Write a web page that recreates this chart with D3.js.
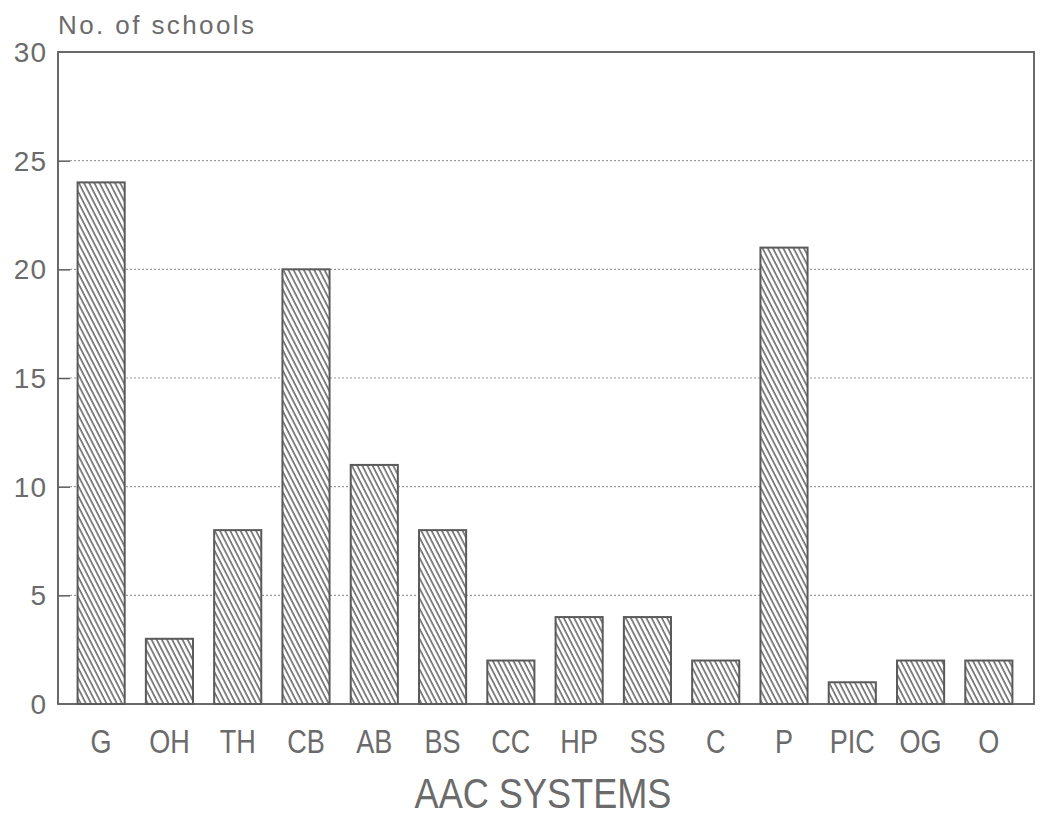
<!DOCTYPE html>
<html>
<head>
<meta charset="utf-8">
<script src="https://cdn.jsdelivr.net/npm/d3@7"></script>
<style>
  html, body { margin: 0; padding: 0; background: #fff; }
  text { font-family: "Liberation Sans", Arial, sans-serif; fill: #6b6b6b; }
</style>
</head>
<body>
<svg id="chart" width="1040" height="817"></svg>
<script>
const categories = ["G","OH","TH","CB","AB","BS","CC","HP","SS","C","P","PIC","OG","O"];
const schools = [24, 3, 8, 20, 11, 8, 2, 4, 4, 2, 21, 1, 2, 2];
const yTicks = [0, 5, 10, 15, 20, 25, 30];
const yLabel = "No. of schools";
const xTitle = "AAC SYSTEMS";

const svg = d3.select("#chart");
const frame = { left: 58, right: 1034, top: 52, bottom: 704 };
const ink = "#5a5a5a";

const defs = svg.append("defs");
const pat = defs.append("pattern")
  .attr("id", "hatch")
  .attr("patternUnits", "userSpaceOnUse")
  .attr("width", 4.6).attr("height", 10)
  .attr("patternTransform", "rotate(-27)");
pat.append("rect").attr("width", 4.6).attr("height", 10).attr("fill", "#fff");
pat.append("line").attr("x1", 1).attr("y1", 0).attr("x2", 1).attr("y2", 10)
  .attr("stroke", "#555").attr("stroke-width", 1.4);

const x = d3.scaleBand().domain(categories).range([67, 1023])
  .paddingInner(0.31).paddingOuter(0.155);
const y = d3.scaleLinear().domain([0, 30]).range([frame.bottom, frame.top]);

// gridlines
svg.append("g").selectAll("line")
  .data(yTicks.filter(d => d > 0 && d < 30))
  .join("line")
  .attr("x1", frame.left + 12).attr("x2", frame.right)
  .attr("y1", d => y(d)).attr("y2", d => y(d))
  .attr("stroke", "#9a9a9a").attr("stroke-width", 1.2)
  .attr("stroke-dasharray", "2,2");

// y axis (ticks inward)
const yAxis = d3.axisRight(y).tickValues(yTicks.filter(d => d > 0 && d < 30))
  .tickSize(12).tickFormat("");
const ya = svg.append("g").attr("transform", `translate(${frame.left},0)`).call(yAxis);
ya.select(".domain").remove();
ya.selectAll(".tick line").attr("stroke", ink).attr("stroke-width", 1.5);

// bars
svg.append("g").selectAll("rect")
  .data(categories.map((c, i) => ({ c, v: schools[i] })))
  .join("rect")
  .attr("x", d => x(d.c))
  .attr("width", x.bandwidth())
  .attr("y", d => y(d.v))
  .attr("height", d => y(0) - y(d.v))
  .attr("fill", "url(#hatch)")
  .attr("stroke", ink).attr("stroke-width", 2);

// frame
svg.append("rect")
  .attr("x", frame.left).attr("y", frame.top)
  .attr("width", frame.right - frame.left).attr("height", frame.bottom - frame.top)
  .attr("fill", "none").attr("stroke", ink).attr("stroke-width", 1.8);

// y tick labels
svg.append("g").selectAll("text")
  .data(yTicks).join("text")
  .attr("x", 47).attr("y", d => y(d) + 10)
  .attr("text-anchor", "end")
  .attr("font-size", 28)
  .attr("letter-spacing", 1)
  .text(d => d);

// x labels (condensed)
svg.append("g").selectAll("text")
  .data(categories).join("text")
  .attr("transform", d => `translate(${x(d) + x.bandwidth() / 2},753) scale(0.82,1)`)
  .attr("text-anchor", "middle")
  .attr("font-size", 33)
  .text(d => d);

// y label
svg.append("text")
  .attr("x", 58).attr("y", 34)
  .attr("font-size", 26)
  .attr("letter-spacing", 2.4)
  .text(yLabel);

// x title
svg.append("text")
  .attr("transform", `translate(543,808) scale(0.86,1)`)
  .attr("text-anchor", "middle")
  .attr("font-size", 42)
  .text(xTitle);
</script>
</body>
</html>
